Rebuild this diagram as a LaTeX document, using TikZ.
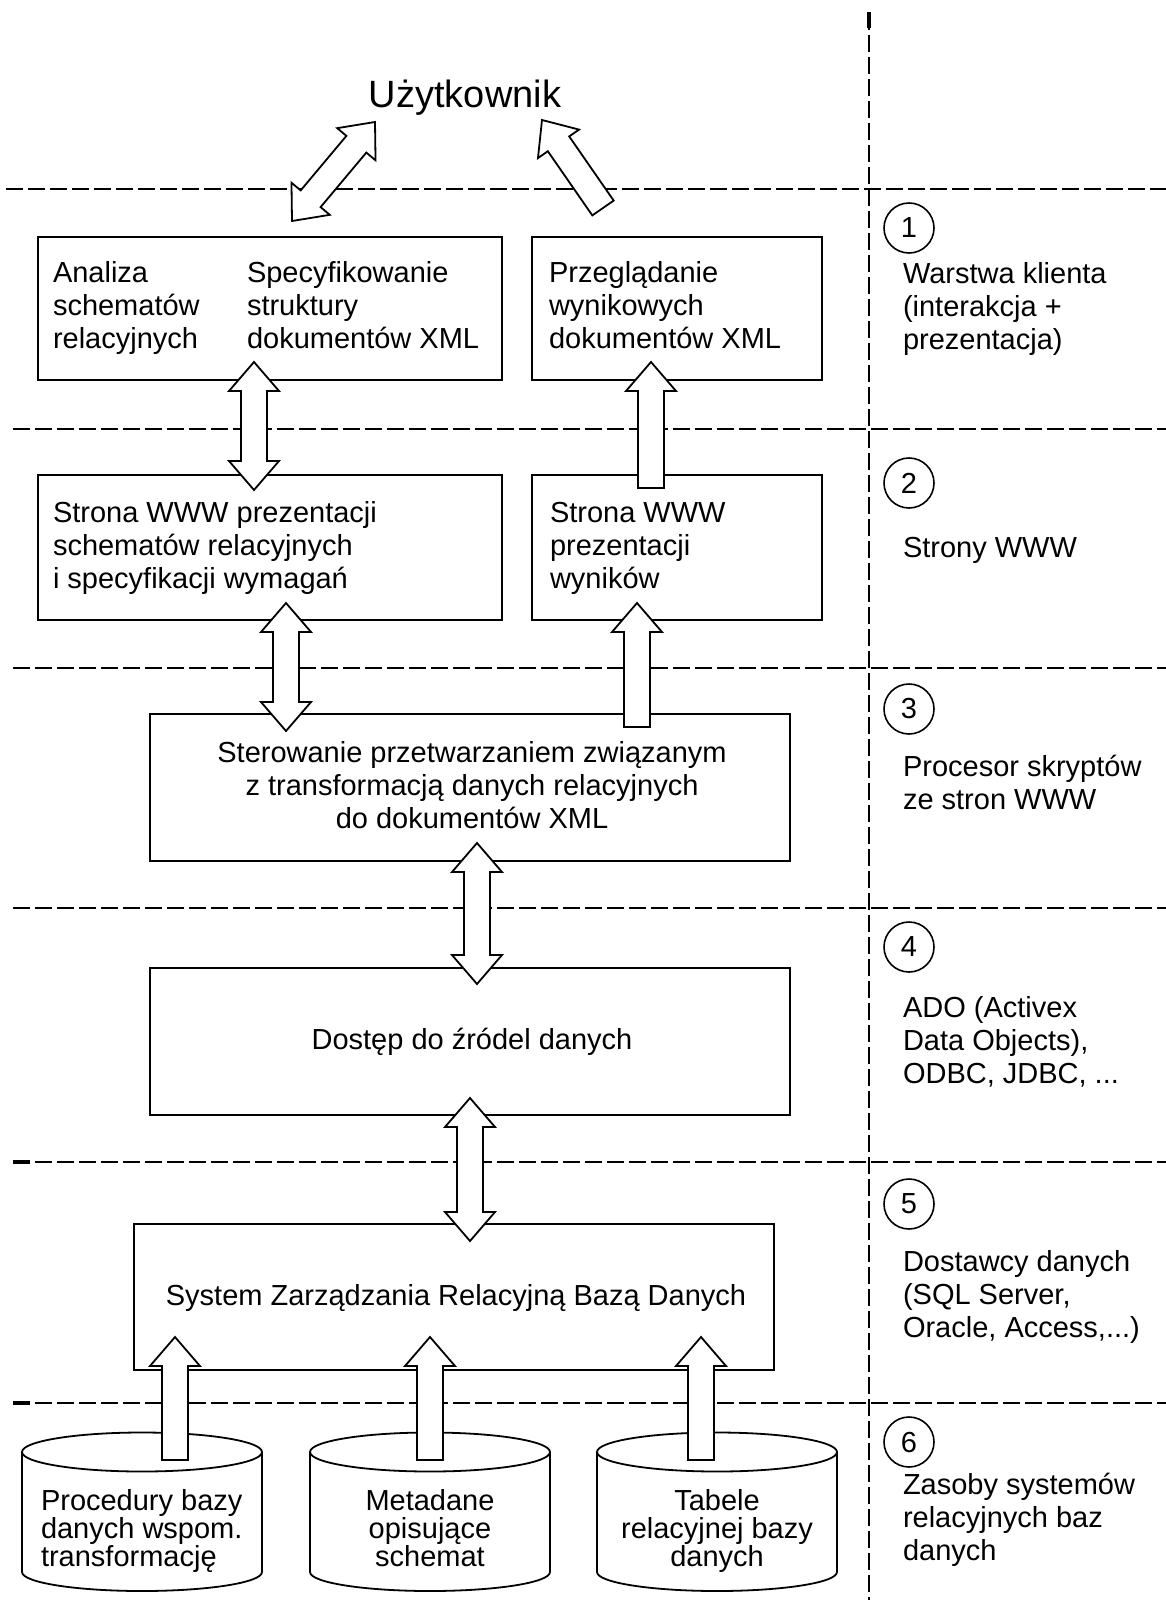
\documentclass[tikz,border=0pt]{standalone}
\usepackage{fontspec}
\setmainfont{Liberation Sans}
\usetikzlibrary{calc}
\newcommand\bfs{\fontsize{29}{33}\selectfont}
\newcommand\cfs{\fontsize{29}{28.3}\selectfont}
\newcommand\ufs{\fontsize{38}{42}\selectfont}
\newcommand\tst{\rule{0pt}{24pt}}
\tikzset{
  layerline/.style={line width=2pt, dash pattern=on 16.7pt off 5.3pt},
  thickstart/.style={line width=3.2pt},
  boxnode/.style={draw, line width=1.8pt, fill=white, inner sep=0pt, outer sep=0pt, anchor=north west},
  txt/.style={anchor=north west, inner sep=0pt, outer sep=0pt, align=left, font=\bfs, yshift=24pt},
  ctxt/.style={anchor=north, inner sep=0pt, outer sep=0pt, align=center, font=\bfs, yshift=24pt},
  ltxt/.style={anchor=base, inner sep=0pt, outer sep=0pt, font=\bfs},
  blockarrow/.style={draw, fill=white, line width=1.8pt, line join=miter},
  num/.style={circle, draw, line width=1.6pt, minimum size=50pt, inner sep=0pt, font=\bfs},
  cylline/.style={line width=1.8pt, fill=white}
}
% single block arrow: #1 tail, #2 tip
\newcommand\onearrow[2]{%
  \path ($(#2)!29pt!(#1)$) coordinate (hbX);
  \draw[blockarrow] (#2) -- ($(hbX)!25pt!90:(#2)$) -- ($(hbX)!13pt!90:(#2)$)
     -- ($(#1)!13pt!90:(#2)$) -- ($(#1)!13pt!-90:(#2)$)
     -- ($(hbX)!13pt!-90:(#2)$) -- ($(hbX)!25pt!-90:(#2)$) -- cycle;
}
% double block arrow between tips #1 and #2
\newcommand\twoarrow[2]{%
  \path ($(#1)!29pt!(#2)$) coordinate (hA) ($(#2)!29pt!(#1)$) coordinate (hB);
  \draw[blockarrow] (#1) -- ($(hA)!25pt!90:(#2)$) -- ($(hA)!13pt!90:(#2)$)
     -- ($(hB)!13pt!90:(#2)$) -- ($(hB)!25pt!90:(#2)$) -- (#2)
     -- ($(hB)!25pt!-90:(#2)$) -- ($(hB)!13pt!-90:(#2)$)
     -- ($(hA)!13pt!-90:(#2)$) -- ($(hA)!25pt!-90:(#2)$) -- cycle;
}
\newcommand\dbcyl[1]{%
  \draw[cylline] ({#1-120},1452) -- ({#1-120},1572)
     arc[start angle=180,end angle=360,x radius=120pt,y radius=19pt]
     -- ({#1+120},1452)
     arc[start angle=0,end angle=180,x radius=120pt,y radius=19.5pt] -- cycle;
  \draw[line width=1.8pt] ({#1-120},1452) arc[start angle=180,end angle=360,x radius=120pt,y radius=19.5pt];
}
\begin{document}
\begin{tikzpicture}[x=1pt,y=-1pt]
\useasboundingbox (0,0) rectangle (1166,1600);
\fill[white] (0,0) rectangle (1166,1600);

% layer separators
\draw[layerline] (6,189) -- (1166,189);
\draw[layerline] (13,429) -- (1166,429);
\draw[layerline] (13,668) -- (1166,668);
\draw[layerline] (13,908) -- (1166,908);
\draw[layerline] (13,1162) -- (1166,1162);
\draw[layerline] (13,1403) -- (1166,1403);
\draw[layerline] (869,13) -- (869,1600);
\draw[thickstart] (13,1162) -- (30,1162);
\draw[thickstart] (13,1403) -- (30,1403);
\draw[thickstart] (869,12) -- (869,28);

% user
\node[anchor=base, inner sep=0pt, font=\ufs] (user) at (465,108) {Użytkownik};

% boxes
\node[boxnode, minimum width=464pt, minimum height=143pt] (b1) at (38,237) {};
\node[boxnode, minimum width=290pt, minimum height=143pt] (b2) at (532,237) {};
\node[boxnode, minimum width=464pt, minimum height=145pt] (b3) at (38,475) {};
\node[boxnode, minimum width=290pt, minimum height=145pt] (b4) at (532,475) {};
\node[boxnode, minimum width=640pt, minimum height=147pt] (b5) at (150,714) {};
\node[boxnode, minimum width=640pt, minimum height=147pt] (b6) at (150,968) {};
\node[boxnode, minimum width=640pt, minimum height=146pt] (b7) at (134,1224) {};

% box texts
\node[txt] (t1a) at (53,282) {\tst Analiza\\schematów\\relacyjnych};
\node[txt] (t1b) at (247,282) {\tst Specyfikowanie\\struktury\\dokumentów XML};
\node[txt] (t2) at (549,282) {\tst Przeglądanie\\wynikowych\\dokumentów XML};
\node[txt] (t3) at (53,522) {\tst Strona WWW prezentacji\\schematów relacyjnych\\i specyfikacji wymagań};
\node[txt] (t4) at (550,522) {\tst Strona WWW\\prezentacji\\wyników};
\node[ctxt] (t5) at (472,762) {\tst Sterowanie przetwarzaniem związanym\\z transformacją danych relacyjnych\\do dokumentów XML};
\node[ltxt] (t6) at (472,1049) {Dostęp do źródel danych};
\node[ltxt] (t7) at (456,1305) {System Zarządzania Relacyjną Bazą Danych};

% databases
\dbcyl{142}
\dbcyl{430}
\dbcyl{717}
\coordinate (cyl1) at (142,1510);
\coordinate (cyl2) at (430,1510);
\coordinate (cyl3) at (717,1510);
\node[txt, font=\cfs] (d1) at (41,1510) {\tst Procedury bazy\\danych wspom.\\transformację};
\node[ctxt, font=\cfs] (d2) at (430,1510) {\tst Metadane\\opisujące\\schemat};
\node[ctxt, font=\cfs] (d3) at (717,1510) {\tst Tabele\\relacyjnej bazy\\danych};

% layer labels
\node[num] (c1) at (909,228) {1};
\node[num] (c2) at (909,483) {2};
\node[num] (c3) at (909,709) {3};
\node[num] (c4) at (909,947) {4};
\node[num] (c5) at (909,1204) {5};
\node[num] (c6) at (909,1442) {6};
\node[txt] (l1) at (903,283) {\tst Warstwa klienta\\(interakcja +\\prezentacja)};
\node[txt] (l2) at (903,557) {\tst Strony WWW};
\node[txt] (l3) at (903,776) {\tst Procesor skryptów\\ze stron WWW};
\node[txt] (l4) at (903,1017) {\tst ADO (Activex\\Data Objects),\\ODBC, JDBC, ...};
\node[txt] (l5) at (903,1271) {\tst Dostawcy danych\\(SQL Server,\\Oracle, Access,...)};
\node[txt] (l6) at (903,1494) {\tst Zasoby systemów\\relacyjnych baz\\danych};

% arrow end points
\coordinate (a1u) at (375,122);  \coordinate (a1b) at (292,221);
\coordinate (a2t) at (603,208);  \coordinate (a2h) at (542,120);
\coordinate (a3u) at (254,362);  \coordinate (a3b) at (254,490);
\coordinate (a4t) at (651,488);  \coordinate (a4h) at (651,362);
\coordinate (a5u) at (286,603);  \coordinate (a5b) at (286,731);
\coordinate (a6t) at (637,727);  \coordinate (a6h) at (637,603);
\coordinate (a7u) at (477,843);  \coordinate (a7b) at (477,984);
\coordinate (a8u) at (470,1098); \coordinate (a8b) at (470,1241);
\coordinate (a9t) at (175,1460);  \coordinate (a9h) at (175,1337);
\coordinate (a10t) at (430,1460); \coordinate (a10h) at (430,1337);
\coordinate (a11t) at (701,1460); \coordinate (a11h) at (701,1337);

\twoarrow{a1u}{a1b}
\onearrow{a2t}{a2h}
\twoarrow{a3u}{a3b}
\onearrow{a4t}{a4h}
\twoarrow{a5u}{a5b}
\onearrow{a6t}{a6h}
\twoarrow{a7u}{a7b}
\twoarrow{a8u}{a8b}
\onearrow{a9t}{a9h}
\onearrow{a10t}{a10h}
\onearrow{a11t}{a11h}
\end{tikzpicture}
\end{document}
